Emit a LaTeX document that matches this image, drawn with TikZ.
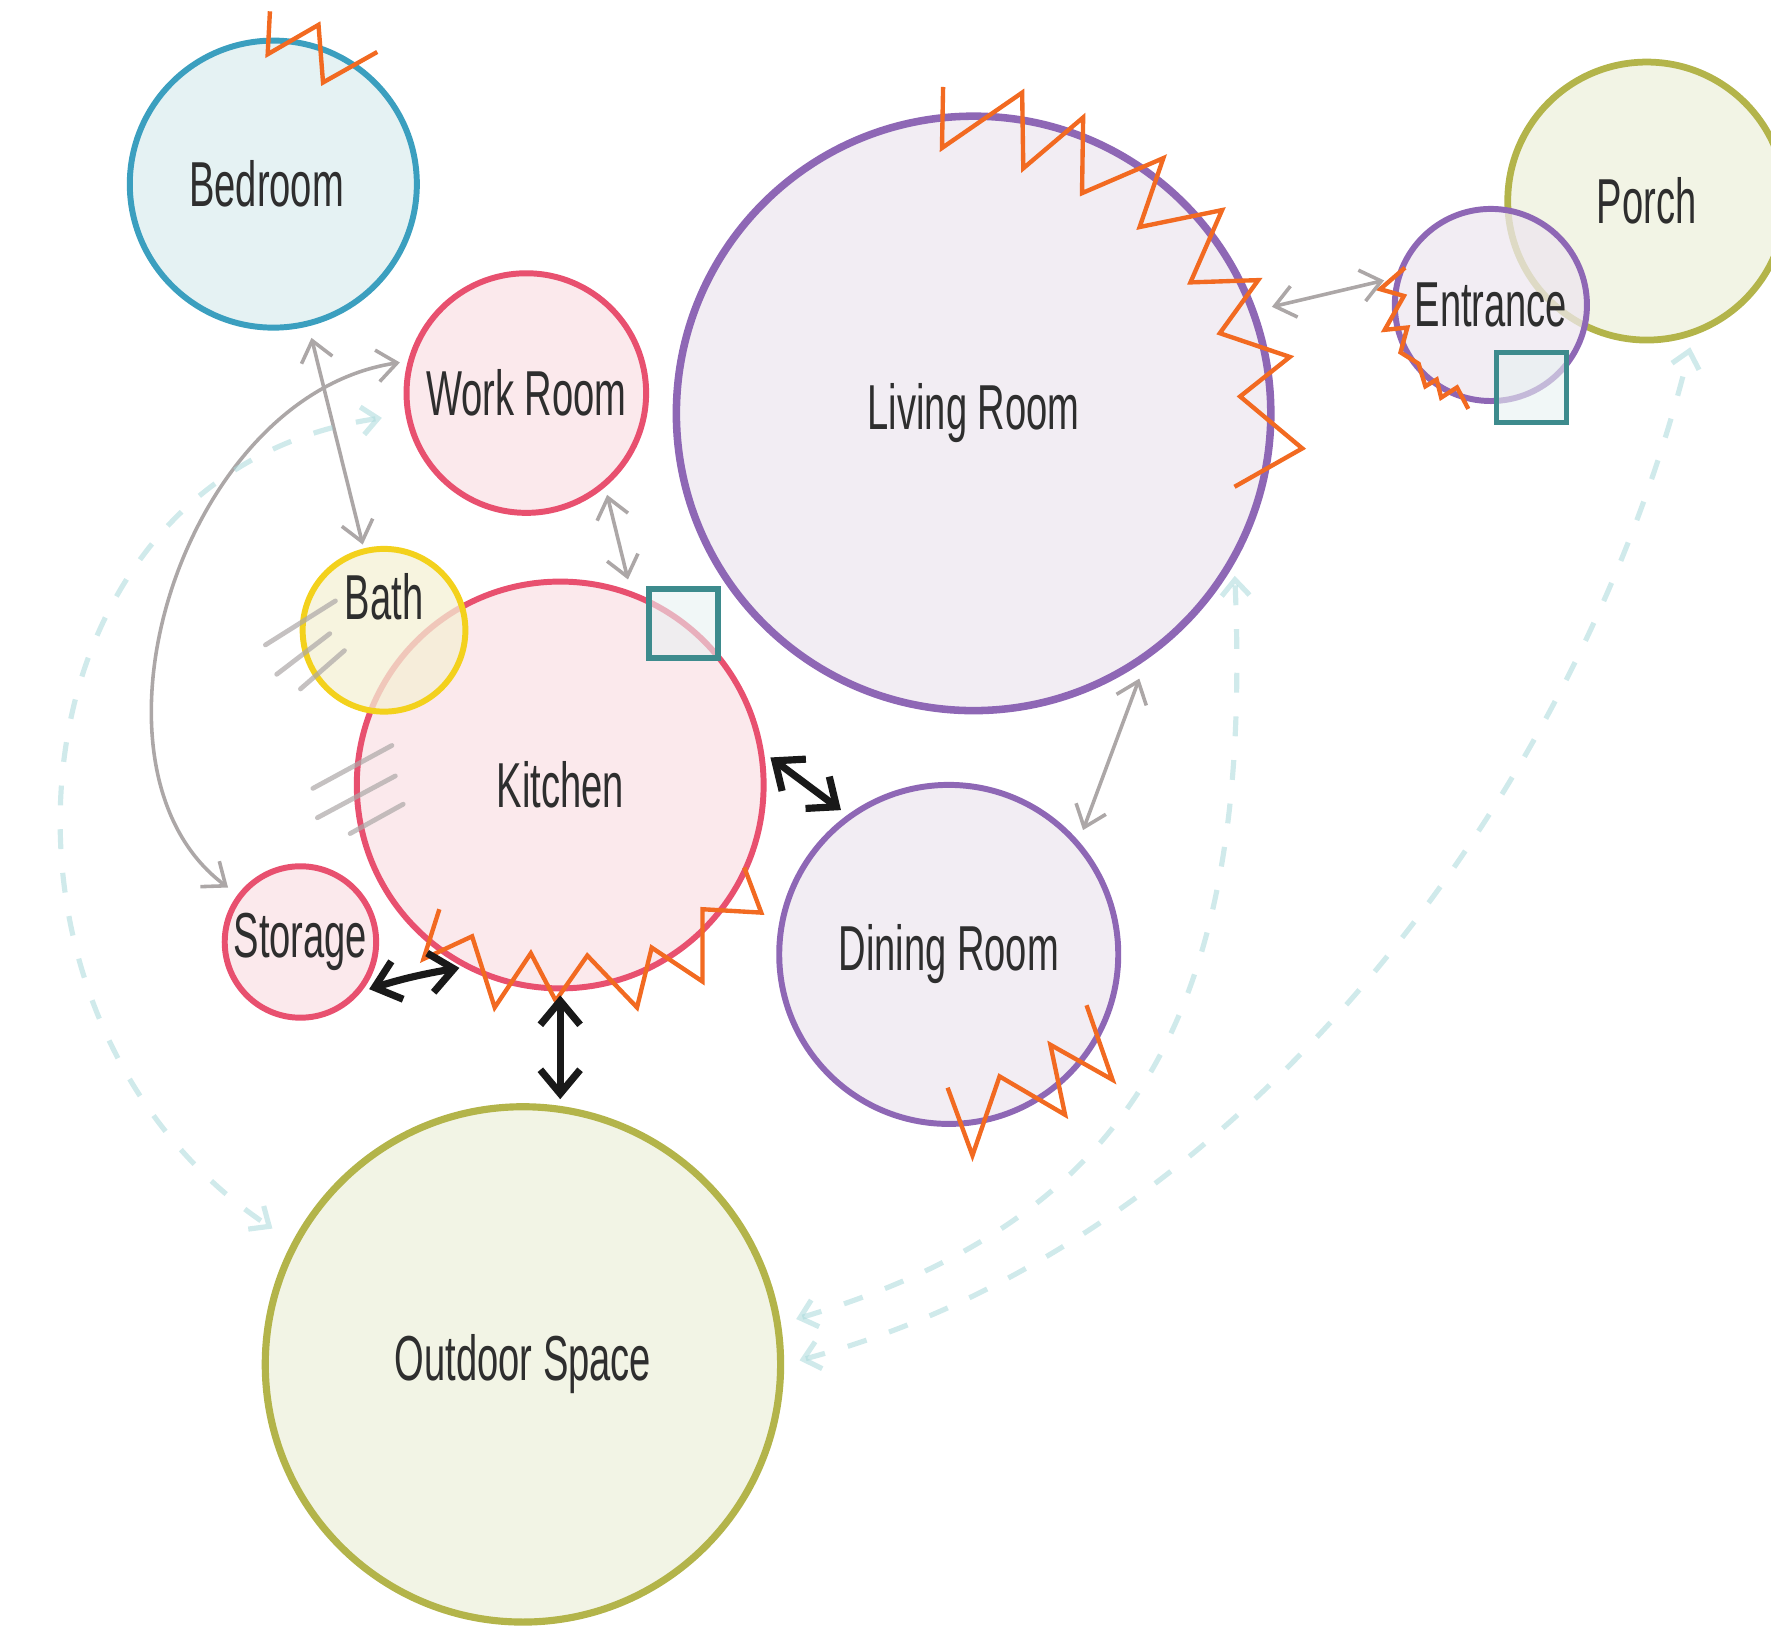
\documentclass[tikz,border=0pt]{standalone}
\usepackage{fontspec}
\setmainfont{Liberation Sans}[FakeStretch=0.6]
\usetikzlibrary{arrows.meta}

\definecolor{zigorange}{HTML}{F26A21}
\definecolor{lavline}{HTML}{8E67B5}
\definecolor{lavfill}{HTML}{EDE7EF}
\definecolor{pinkline}{HTML}{E8506F}
\definecolor{pinkfill}{HTML}{F9E1E5}
\definecolor{blueline}{HTML}{3B9FBF}
\definecolor{bluefill}{HTML}{DCEDEF}
\definecolor{yelline}{HTML}{F3D11C}
\definecolor{yelfill}{HTML}{F4F0D4}
\definecolor{oliveline}{HTML}{B3B44A}
\definecolor{olivefill}{HTML}{EEF0DC}
\definecolor{tealbox}{HTML}{3D8B8D}
\definecolor{arrowgray}{HTML}{ACA7A7}
\definecolor{flowteal}{HTML}{A9D9DB}
\definecolor{labelgray}{HTML}{2E2E2E}

\tikzset{
  room/.style={circle,inner sep=0pt,line width=1.5pt,fill opacity=0.75,text opacity=1,
    text=labelgray,font=\fontsize{16}{19}\selectfont},
  lav/.style={room,draw=lavline,fill=lavfill},
  pink/.style={room,draw=pinkline,fill=pinkfill},
  olive/.style={room,draw=oliveline,fill=olivefill},
  window/.style={rectangle,inner sep=0pt,minimum size=0.61cm,draw=tealbox,line width=1.4pt,
    fill=tealbox!12,fill opacity=0.6},
  zz/.style={draw=zigorange,line width=1.1pt,line join=miter},
  hatch/.style={draw=arrowgray,line width=1.2pt,line cap=round,opacity=0.7},
  link/.style={{Straight Barb[length=5pt,width=8pt]}-{Straight Barb[length=5pt,width=8pt]},
    draw=arrowgray,line width=0.9pt},
  strong/.style={{Straight Barb[length=6pt,width=10pt]}-{Straight Barb[length=6pt,width=10pt]},
    draw=black!90,line width=1.8pt},
  flow/.style={{Straight Barb[length=4pt,width=7pt]}-{Straight Barb[length=4pt,width=7pt]},
    draw=flowteal,line width=1.3pt,dash pattern=on 5pt off 6pt,opacity=0.55}
}

\begin{document}
\begin{tikzpicture}[x=0.01cm,y=-0.01cm]
\useasboundingbox (0,0) rectangle (1568,1444);

% rooms
\node[room,draw=blueline,fill=bluefill,minimum size=2.54cm] (bedroom) at (242,163) {\hspace*{-0.12cm}Bedroom};
\node[pink,minimum size=2.12cm] (work) at (466,348) {Work Room};
\node[lav,minimum size=5.26cm,line width=1.9pt] (living) at (862,366) {Living Room};
\node[olive,minimum size=2.46cm,line width=1.7pt] (porch) at (1458,178) {Porch};
\node[lav,minimum size=1.70cm] (entrance) at (1320,270) {Entrance};
\node[pink,minimum size=3.60cm] (kitchen) at (496,695) {Kitchen};
\node[room,draw=yelline,fill=yelfill,minimum size=1.44cm,
  label={[yshift=0.3cm,text=labelgray,font=\fontsize{16}{19}\selectfont]center:Bath}] (bath) at (340,558) {};
\node[pink,minimum size=1.34cm] (storage) at (266,834) {Storage};
\node[lav,minimum size=3.00cm] (dining) at (840,845) {Dining Room};
\node[olive,minimum size=4.56cm,line width=1.8pt] (outdoor) at (463,1208) {Outdoor Space};

% windows
\node[window] (kwin) at (605,552) {};
\node[window,minimum size=0.62cm] (ewin) at (1356,343) {};

% hatching
\draw[hatch] (235,571) -- (297,532);
\draw[hatch] (245,597) -- (292,561);
\draw[hatch] (266,610) -- (305,576);
\draw[hatch] (277,698) -- (347,660);
\draw[hatch] (281,724) -- (350,687);
\draw[hatch] (310,738) -- (357,712);

% noise zigzags
\draw[zz] (239,10) -- (237,48) -- (282,22) -- (286,73) -- (334,46);
\draw[zz] (835,77) -- (834,131) -- (905,82) -- (906,149) -- (959,104) -- (958,171)
  -- (1030,140) -- (1009,201) -- (1082,186) -- (1054,250) -- (1114,248) -- (1080,295)
  -- (1142,316) -- (1098,351) -- (1153,397) -- (1093,431);
\draw[zz] (1244,237) -- (1222,256) -- (1243,262) -- (1226,292) -- (1246,290) -- (1240,312)
  -- (1256,322) -- (1262,342) -- (1272,336) -- (1276,352) -- (1290,343) -- (1300,362);
\draw[zz] (389,805) -- (375,849) -- (418,829) -- (438,892) -- (470,844) -- (492,886)
  -- (520,846) -- (564,892) -- (577,839) -- (622,869) -- (622,805) -- (674,808) -- (659,768);
\draw[zz] (839,963) -- (861,1023) -- (885,953) -- (943,987) -- (930,925) -- (985,956) -- (962,890);

% gray links
\draw[link,shorten <=3pt,shorten >=1pt] (bedroom) -- (bath);
\draw[link,shorten <=2pt,shorten >=3pt] (work.-50) -- (kitchen.70);
\draw[link,shorten <=5pt,shorten >=3pt] (living.-55) -- (dining.41);
\draw[link,shorten <=3pt,shorten >=4pt] (entrance.164) -- (living.20);
\draw[link,shorten <=2pt,shorten >=3pt] (work.165) .. controls (160,350) and (60,680) .. (storage.143);

% strong links
\draw[strong,shorten <=2pt,shorten >=2pt] (kitchen.9) -- (dining.126);
\draw[strong,shorten <=2pt,shorten >=1pt] (storage.-39) to[bend left=4] (kitchen.-118);
\draw[strong,shorten <=1pt,shorten >=1pt] (kitchen.south) -- (kitchen.south |- outdoor.north);

% outdoor flows
\draw[flow,shorten <=6pt,shorten >=6pt] (work.190) .. controls (0,420) and (-40,900) .. (outdoor.152);
\draw[flow,shorten <=4pt,shorten >=3pt] (outdoor.9) .. controls (1000,1080) and (1110,900) .. (living.-30);
\draw[flow,shorten <=4pt,shorten >=3pt] (outdoor.0) .. controls (1100,1100) and (1400,700) .. (porch.-71);
\end{tikzpicture}
\end{document}
